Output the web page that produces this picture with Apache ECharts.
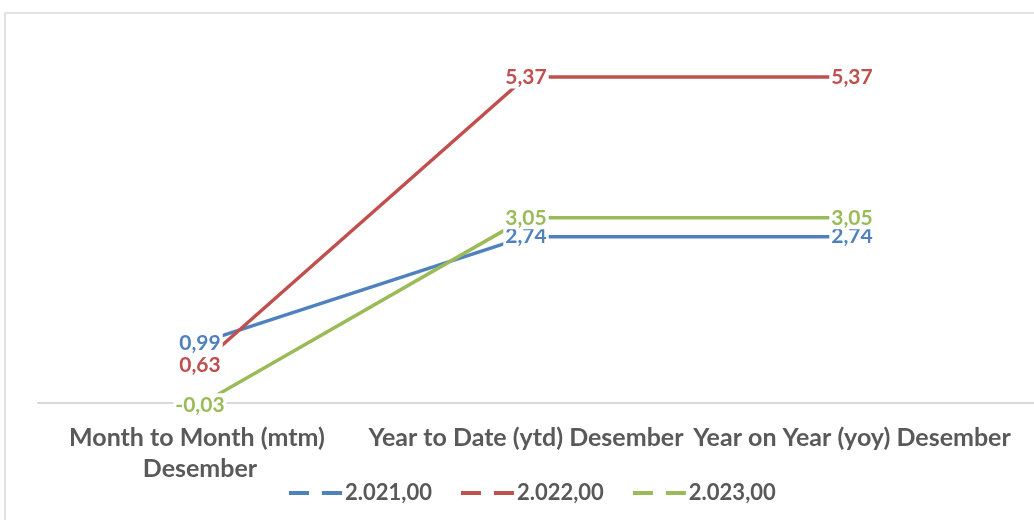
<!DOCTYPE html>
<html>
<head>
<meta charset="utf-8">
<script src="https://cdn.jsdelivr.net/npm/echarts@6/dist/echarts.min.js"></script>
<style>
  html, body { margin: 0; padding: 0; background: #fff; }
  #chart { width: 1034px; height: 520px; }
</style>
</head>
<body>
<div id="chart"></div>
<script>
// Inflation by measure, December
const categories = ['Month to Month (mtm) Desember', 'Year to Date (ytd) Desember', 'Year on Year (yoy) Desember'];
const seriesNames = ['2.021,00', '2.022,00', '2.023,00'];
const values2021 = [0.99, 2.74, 2.74];
const values2022 = [0.63, 5.37, 5.37];
const values2023 = [-0.03, 3.05, 3.05];

const colors = ['#4F81BD', '#C0504D', '#9BBB59'];
const FONT = 'Lato';
const fmt = v => v.toFixed(2).replace('.', ',');

// value range of the plot: baseline (0) sits on the bottom edge of the plot
const Y_MIN = 0, Y_MAX = 6;
const GRID_TOP = 38.8, GRID_H = 364.2;

function makeSeries(name, vals, color) {
  return {
    name: name,
    type: 'line',
    xAxisIndex: 0,
    yAxisIndex: 0,
    data: vals,
    clip: false,
    symbol: 'circle',
    symbolSize: 0,
    lineStyle: { color: color, width: 3.5 },
    itemStyle: { color: color },
    label: {
      show: true,
      position: 'inside',
      formatter: p => fmt(p.value),
      color: color,
      fontFamily: FONT,
      fontWeight: 'bold',
      fontSize: 21,
      backgroundColor: '#fff',
      padding: [1, 2]
    },
    emphasis: { disabled: true }
  };
}

const chart = echarts.init(document.getElementById('chart'));
chart.setOption({
  animation: false,
  color: colors,
  textStyle: { fontFamily: FONT },
  graphic: [{
    type: 'rect',
    shape: { x: 5, y: 13, width: 1100, height: 600 },
    style: { fill: 'none', stroke: '#d9d9d9', lineWidth: 1.5 },
    silent: true,
    z: -1
  }],
  grid: [
    // plot area holding the lines and category labels
    { left: 37, right: 19, top: GRID_TOP, height: GRID_H, outerBoundsMode: 'none', containLabel: false },
    // wider area used only for the zero baseline, which runs to the chart edge
    { left: 38, right: 0, top: GRID_TOP, height: GRID_H, outerBoundsMode: 'none', containLabel: false }
  ],
  xAxis: [{
    type: 'category',
    gridIndex: 0,
    data: categories,
    boundaryGap: true,
    axisTick: { show: false },
    axisLine: { show: false },
    axisLabel: {
      interval: 0,
      color: '#595959',
      fontFamily: FONT,
      fontWeight: 'bold',
      fontSize: 25,
      width: 326,
      overflow: 'break',
      lineHeight: 31,
      margin: 19
    }
  }, {
    type: 'value',
    gridIndex: 1,
    min: 0,
    max: 1,
    splitLine: { show: false },
    axisTick: { show: false },
    axisLabel: { show: false },
    axisLine: { show: true, lineStyle: { color: '#d9d9d9', width: 2 } }
  }],
  yAxis: [{
    type: 'value', gridIndex: 0, min: Y_MIN, max: Y_MAX, show: false
  }, {
    type: 'value', gridIndex: 1, min: Y_MIN, max: Y_MAX, show: false
  }],
  legend: {
    left: 284,
    top: 477,
    itemWidth: 53,
    itemHeight: 4,
    itemGap: 29,
    icon: 'path://M0,0h20v4h-20z M33,0h20v4h-20z',
    textStyle: { color: '#595959', fontFamily: FONT, fontWeight: 'bold', fontSize: 22, padding: [0, 0, 0, -2] },
    data: seriesNames
  },
  series: [
    makeSeries(seriesNames[0], values2021, colors[0]),
    makeSeries(seriesNames[1], values2022, colors[1]),
    makeSeries(seriesNames[2], values2023, colors[2])
  ]
});
</script>
</body>
</html>
